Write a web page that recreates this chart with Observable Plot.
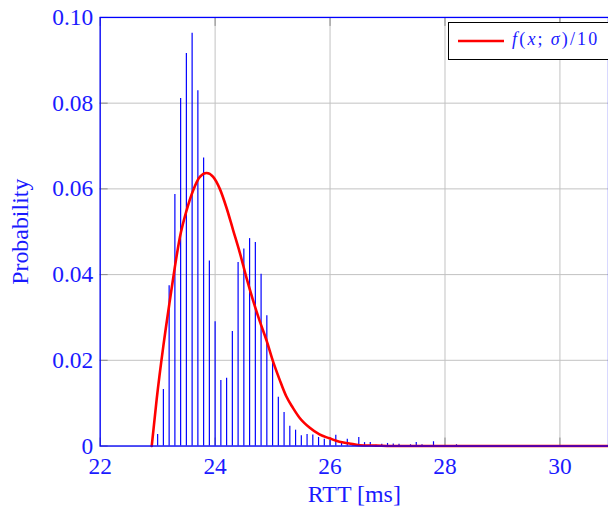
<!DOCTYPE html>
<html>
<head>
<meta charset="utf-8">
<script src="https://cdn.jsdelivr.net/npm/d3@7"></script>
<script src="https://cdn.jsdelivr.net/npm/@observablehq/plot@0.6"></script>
<style>
  html, body { margin: 0; padding: 0; background: #fff; overflow: hidden; }
  #wrap { position: relative; width: 608px; height: 513px; overflow: hidden; }
  #legend {
    position: absolute; left: 448px; top: 22px; width: 170px; height: 38px;
    border: 1px solid #000; background: #fff; box-sizing: border-box;
    font-family: "Liberation Serif", serif; font-size: 18px; color: #1a1aff;
  }
  #legend svg { position: absolute; left: 9px; top: 16px; }
  #legend span { position: absolute; left: 63px; top: 6px; white-space: nowrap; letter-spacing: 2.2px; }
</style>
</head>
<body>
<div id="wrap"><div id="legend"><svg width="46" height="4"><line x1="0" y1="2" x2="46" y2="2" stroke="#ff0000" stroke-width="2.6"/></svg><span id="legtext"></span></div></div>
<script>
// Histogram bins (RTT in ms) and their probabilities
const binRTT = [23.0, 23.1, 23.2, 23.3, 23.4, 23.5, 23.6, 23.7, 23.8, 23.9,
                24.0, 24.1, 24.2, 24.3, 24.4, 24.5, 24.6, 24.7, 24.8, 24.9,
                25.0, 25.1, 25.2, 25.3, 25.4, 25.5, 25.6, 25.7, 25.8, 25.9,
                26.0, 26.1, 26.2, 26.3, 26.4, 26.5, 26.6, 26.7, 26.8, 26.9,
                27.0, 27.1, 27.2, 27.3, 27.4, 27.5, 27.6, 27.7, 27.8, 27.9,
                28.0, 28.2];
const binProb = [0.0027, 0.0132, 0.0374, 0.0587, 0.0811, 0.0916, 0.0963, 0.0829, 0.0672, 0.0432,
                 0.0290, 0.0153, 0.0158, 0.0267, 0.0428, 0.0460, 0.0484, 0.0475, 0.0401, 0.0304,
                 0.0195, 0.0114, 0.0078, 0.0046, 0.0037, 0.0024, 0.0027, 0.0026, 0.0020, 0.0016,
                 0.0013, 0.0025, 0.0008, 0.0016, 0.0004, 0.0020, 0.0008, 0.0008, 0.0002, 0.0004,
                 0.0006, 0.0005, 0.0004, 0.0001, 0.0003, 0.0008, 0.0003, 0.0001, 0.0010, 0.0001,
                 0.0001, 0.0003];

// Fitted density f(x;sigma)/10
const fitX = [22.897, 22.983, 23.099, 23.214, 23.301, 23.388, 23.504, 23.619, 23.735, 23.851,
              23.966, 24.082, 24.198, 24.313, 24.428, 24.545, 24.66, 24.775, 24.891, 25.006,
              25.122, 25.238, 25.354, 25.469, 25.642, 25.816, 25.989, 26.162, 26.336, 26.51,
              26.8, 27.2, 28.0, 30.9];
const fitY = [0, 0.0109, 0.0233, 0.0341, 0.0419, 0.0488, 0.0550, 0.0597, 0.0628, 0.0637,
              0.0628, 0.0600, 0.0556, 0.0504, 0.0452, 0.0393, 0.0340, 0.0292, 0.0248, 0.0198,
              0.0155, 0.0116, 0.0089, 0.0066, 0.0043, 0.0027, 0.0018, 0.0010, 0.0006, 0.0002,
              0.0001, 0, 0, 0];

const xTicks = [22, 24, 26, 28, 30];
const xTickLabels = ["22", "24", "26", "28", "30"];
const yTicks = [0, 0.02, 0.04, 0.06, 0.08, 0.10];
const yTickLabels = ["0", "0.02", "0.04", "0.06", "0.08", "0.10"];
const xLabel = "RTT [ms]";
const yLabel = "Probability";
const legendHTML = "<i>f</i>(<i>x</i>;\u2009<i>σ</i>)/10";

const bars = binRTT.map((x, i) => ({x, p: binProb[i]}));
const fit = fitX.map((x, i) => ({x, y: fitY[i]}));

const blue = "#0000ff";
const textBlue = "#1a1aff";
const gridGray = "#c2c2c2";
const tickGray = "#8a8a8a";

const chart = Plot.plot({
  width: 610,
  height: 513,
  marginLeft: 100,
  marginRight: 0,
  marginTop: 17,
  marginBottom: 66,
  style: {fontFamily: "'Liberation Serif', serif", fontSize: "23.5px", color: textBlue, background: "#fff"},
  x: {domain: [22, 30.845]},
  y: {domain: [0, 0.1]},
  marks: [
    Plot.gridX(xTicks, {stroke: gridGray, strokeOpacity: 1, strokeWidth: 1}),
    Plot.gridY(yTicks, {stroke: gridGray, strokeOpacity: 1, strokeWidth: 1}),
    Plot.axisX({ticks: xTicks, tickSize: -8, stroke: tickGray, tickFormat: () => "", label: null}),
    Plot.axisX({anchor: "top", ticks: xTicks, tickSize: -8, stroke: tickGray, tickFormat: () => "", label: null}),
    Plot.axisY({ticks: yTicks, tickSize: -8, stroke: tickGray, tickFormat: () => "", label: null}),
    Plot.axisX({ticks: xTicks, tickSize: 0, tickPadding: 11, tickFormat: (d, i) => xTickLabels[i], label: null}),
    Plot.axisY({ticks: yTicks, tickSize: 0, tickPadding: 7, tickFormat: (d, i) => yTickLabels[i], label: null}),
    Plot.ruleX(bars, {x: "x", y1: 0, y2: "p", stroke: blue, strokeWidth: 1.2}),
    Plot.line(fit, {x: "x", y: "y", stroke: "#ff0000", strokeWidth: 2.6, curve: "monotone-x"}),
    Plot.frame({stroke: blue, strokeWidth: 1.3}),
    Plot.text([xLabel], {frameAnchor: "bottom", dy: 56, fill: textBlue, fontSize: 24, textAnchor: "middle"}),
    Plot.text([yLabel], {frameAnchor: "left", dx: -80, rotate: -90, fill: textBlue, fontSize: 24, textAnchor: "middle"})
  ]
});
const wrap = document.getElementById("wrap");
wrap.insertBefore(chart, wrap.firstChild);
document.getElementById("legtext").innerHTML = legendHTML;
</script>
</body>
</html>
